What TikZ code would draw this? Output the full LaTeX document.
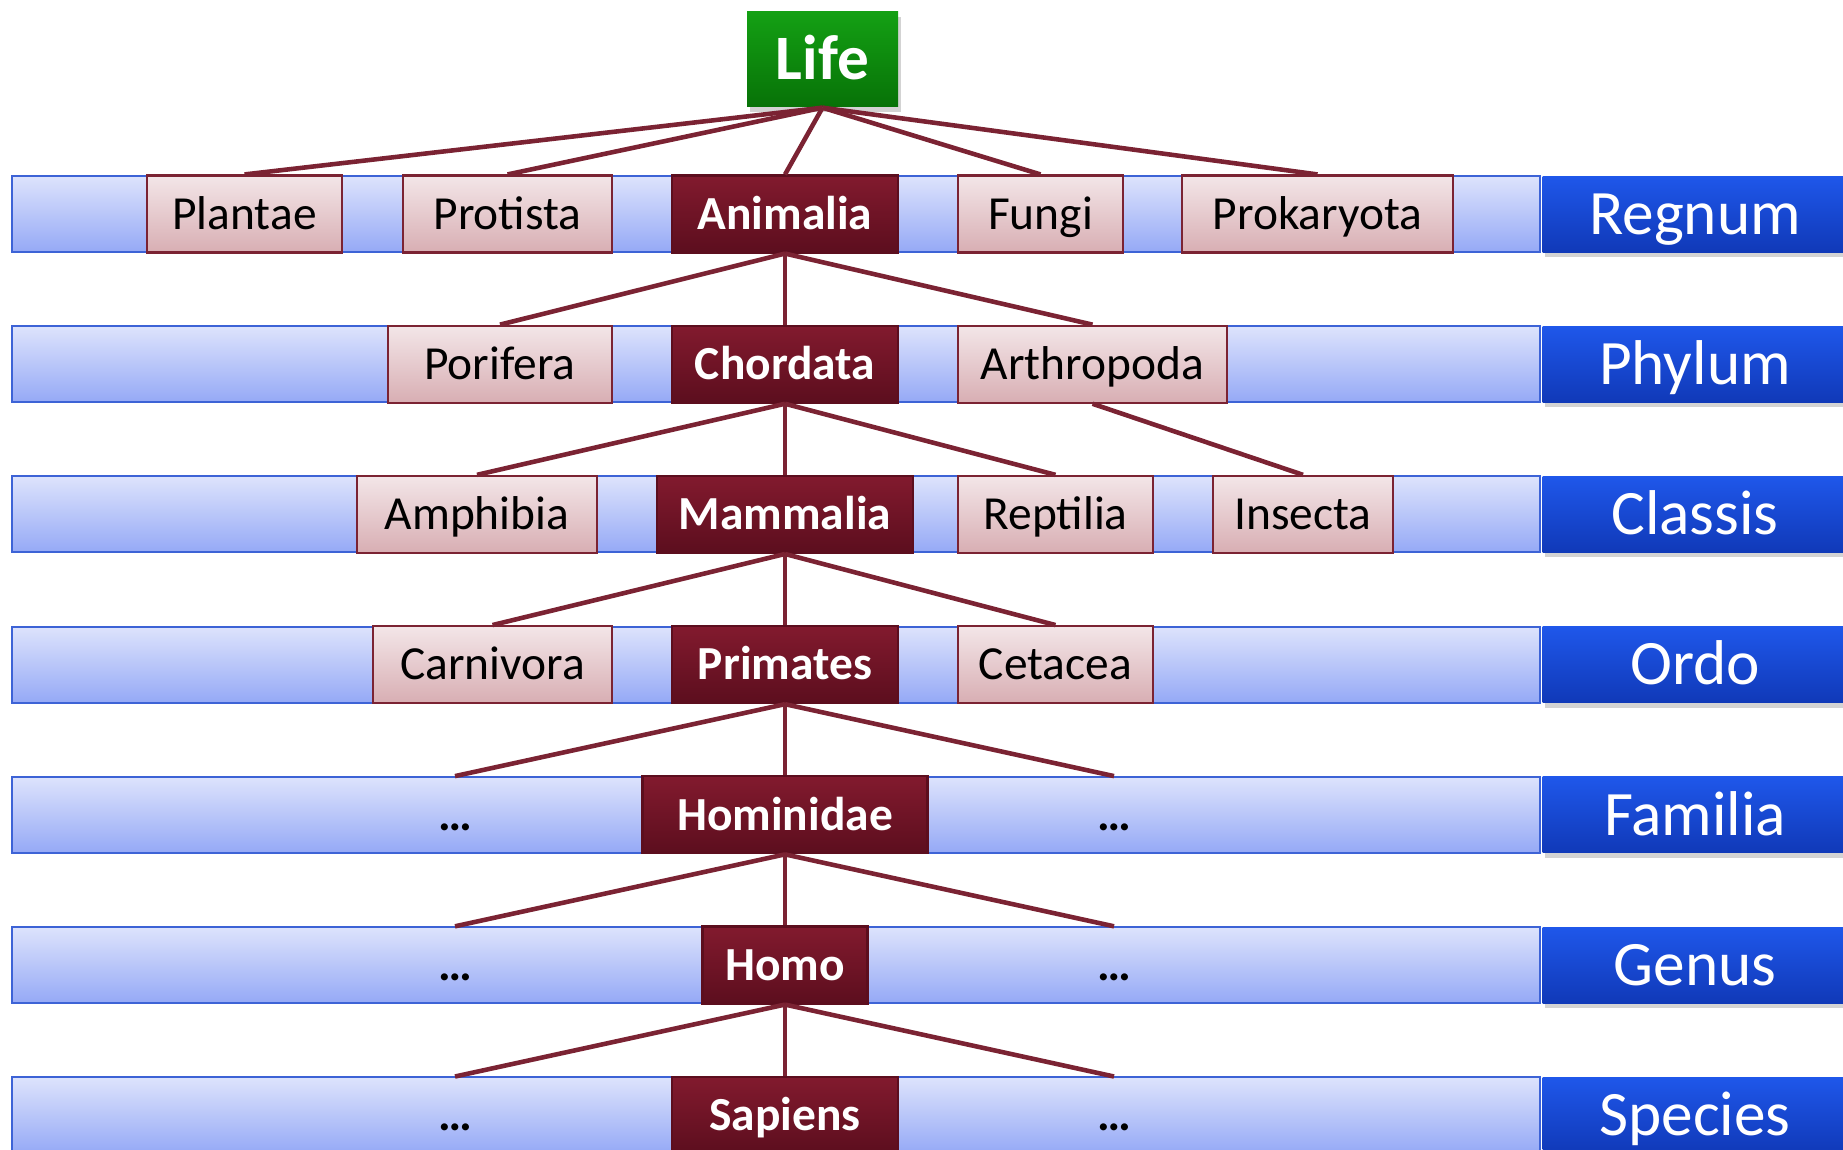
\documentclass[tikz,border=0pt]{standalone}
\usepackage{fontspec}
\setmainfont{Carlito}
\usetikzlibrary{shadows}
\definecolor{bandtop}{HTML}{DDE3FC}
\definecolor{bandbot}{HTML}{95A9F6}
\definecolor{bandline}{HTML}{3D63D6}
\definecolor{pinktop}{HTML}{F3E6E8}
\definecolor{pinkbot}{HTML}{D8AEB3}
\definecolor{wine}{HTML}{7B2333}
\definecolor{winetop}{HTML}{821A2E}
\definecolor{winebot}{HTML}{5C0E1E}
\definecolor{lifetop}{HTML}{14A014}
\definecolor{lifebot}{HTML}{077207}
\definecolor{ranktop}{HTML}{1F57EA}
\definecolor{rankbot}{HTML}{1039B8}
\begin{document}
\begin{tikzpicture}[
    band/.style={draw=bandline, line width=0.6pt, top color=bandtop, bottom color=bandbot,
        minimum width=15.28cm, minimum height=0.76cm, inner sep=0pt},
    rank/.style={top color=ranktop, bottom color=rankbot, text=white,
        font=\fontsize{18}{21}\selectfont, text height=11.6pt, text depth=0pt,
        minimum width=3.05cm, minimum height=0.76cm, inner sep=0pt,
        drop shadow={opacity=0.35, shadow xshift=0.8pt, shadow yshift=-1.4pt}},
    taxon/.style={draw=wine, line width=0.6pt, top color=pinktop, bottom color=pinkbot,
        font=\fontsize{13.5}{16}\selectfont, text height=8.7pt, text depth=0pt,
        minimum height=0.77cm, inner sep=0pt},
    chosen/.style={taxon, draw=winebot, top color=winetop, bottom color=winebot,
        text=white, font=\fontsize{13.5}{16}\selectfont\bfseries},
    gap/.style={font=\fontsize{13.5}{16}\selectfont\bfseries, text height=8.7pt,
        text depth=0pt, minimum height=0.76cm, inner sep=0pt},
    life/.style={top color=lifetop, bottom color=lifebot, text=white,
        font=\fontsize{18}{21}\selectfont\bfseries, text height=11.6pt, text depth=0pt,
        minimum width=1.51cm, minimum height=0.95cm, inner sep=0pt,
        drop shadow={opacity=0.35, shadow xshift=0.8pt, shadow yshift=-1.4pt}},
    link/.style={wine, line width=1.3pt},
]
    \useasboundingbox (0,0) rectangle (18.43,-11.49);

    % Bands and ranks
    \foreach \lab [count=\i] in {Regnum,Phylum,Classis,Ordo,Familia,Genus,Species} {
        \node[band] (band\i) at (7.76, {-2.14-1.502*(\i-1)}) {};
        \node[rank] (rank\i) at (16.95, {-2.14-1.502*(\i-1)}) {\lab};
    }

    % Root
    \node[life] (life) at (8.225,-0.595) {Life};

    % Regnum
    \node[taxon, minimum width=1.95cm] (plantae) at (2.445,-2.14) {Plantae};
    \node[taxon, minimum width=2.09cm] (protista) at (5.075,-2.14) {Protista};
    \node[chosen, minimum width=2.26cm] (animalia) at (7.85,-2.14) {Animalia};
    \node[taxon, minimum width=1.65cm] (fungi) at (10.405,-2.14) {Fungi};
    \node[taxon, minimum width=2.71cm] (prokaryota) at (13.175,-2.14) {Prokaryota};

    % Phylum
    \node[taxon, minimum width=2.24cm] (porifera) at (5.00,-3.642) {Porifera};
    \node[chosen, minimum width=2.26cm] (chordata) at (7.85,-3.642) {Chordata};
    \node[taxon, minimum width=2.69cm] (arthropoda) at (10.925,-3.642) {Arthropoda};

    % Classis
    \node[taxon, minimum width=2.40cm] (amphibia) at (4.77,-5.144) {Amphibia};
    \node[chosen, minimum width=2.56cm] (mammalia) at (7.85,-5.144) {Mammalia};
    \node[taxon, minimum width=1.95cm] (reptilia) at (10.555,-5.144) {Reptilia};
    \node[taxon, minimum width=1.80cm] (insecta) at (13.03,-5.144) {Insecta};

    % Ordo
    \node[taxon, minimum width=2.39cm] (carnivora) at (4.925,-6.646) {Carnivora};
    \node[chosen, minimum width=2.26cm] (primates) at (7.85,-6.646) {Primates};
    \node[taxon, minimum width=1.95cm] (cetacea) at (10.555,-6.646) {Cetacea};

    % Familia, Genus, Species
    \node[gap] (famL) at (4.55,-8.148) {…};
    \node[chosen, minimum width=2.85cm] (hominidae) at (7.85,-8.148) {Hominidae};
    \node[gap] (famR) at (11.14,-8.148) {…};
    \node[gap] (genL) at (4.55,-9.65) {…};
    \node[chosen, minimum width=1.65cm] (homo) at (7.85,-9.65) {Homo};
    \node[gap] (genR) at (11.14,-9.65) {…};
    \node[gap] (spL) at (4.55,-11.152) {…};
    \node[chosen, minimum width=2.26cm] (sapiens) at (7.85,-11.152) {Sapiens};
    \node[gap] (spR) at (11.14,-11.152) {…};

    % Links
    \foreach \t in {plantae,protista,animalia,fungi,prokaryota}
        \draw[link] (life.south) -- (\t.north);
    \foreach \t in {porifera,chordata,arthropoda}
        \draw[link] (animalia.south) -- (\t.north);
    \foreach \t in {amphibia,mammalia,reptilia}
        \draw[link] (chordata.south) -- (\t.north);
    \draw[link] (arthropoda.south) -- (insecta.north);
    \foreach \t in {carnivora,primates,cetacea}
        \draw[link] (mammalia.south) -- (\t.north);
    \foreach \t in {famL,hominidae,famR}
        \draw[link] (primates.south) -- (\t.north);
    \foreach \t in {genL,homo,genR}
        \draw[link] (hominidae.south) -- (\t.north);
    \foreach \t in {spL,sapiens,spR}
        \draw[link] (homo.south) -- (\t.north);
\end{tikzpicture}
\end{document}
